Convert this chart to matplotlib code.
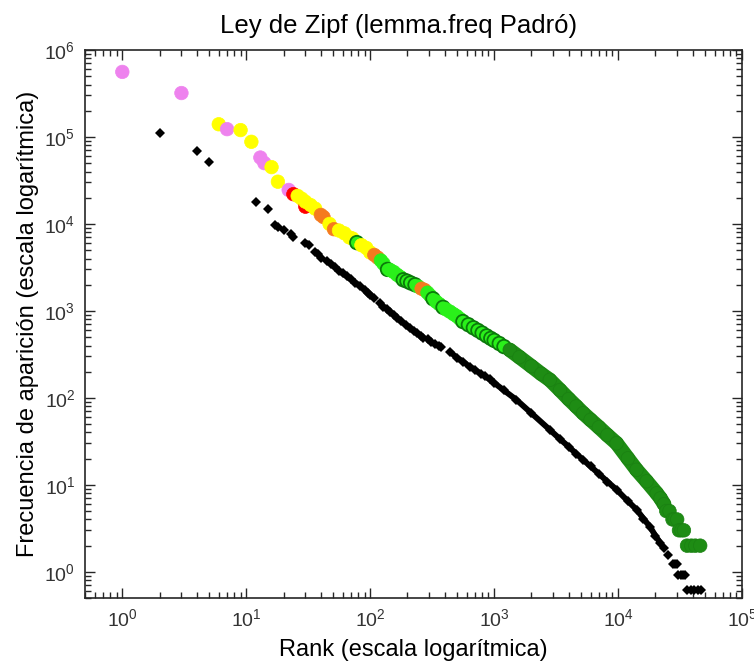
import numpy as np
import matplotlib
matplotlib.use("Agg")
import matplotlib.pyplot as plt

plt.rcParams['font.family'] = ['Liberation Sans', 'DejaVu Sans']
plt.rcParams['mathtext.default'] = 'regular'

#--- black series (rank, frequency)
black_rank = [2, 4, 5, 12, 15, 17, 18, 20, 23, 24,
              30, 32, 36, 38, 40, 45, 48, 52, 56, 60, 65, 70, 76, 82,
              90, 96, 100, 108, 119, 128, 136, 145, 155, 165, 178,
              195, 210, 225, 240, 255, 267,
              291, 310, 335, 360, 375,
              440, 500, 560, 634, 700, 780, 850, 922, 1000, 1200, 1514, 2000,
              2812, 3400, 4000, 4600, 5228, 6000, 7000, 8200, 9727,
              12000, 14100, 16000, 18100, 20000, 21800,
              23500, 25400, 27600, 28800, 29800, 30600, 32000, 33500, 34800,
              36000, 38500, 41000, 44000, 47000]
black_freq = [1.12e5, 6.9e4, 5.1e4, 1.78e4, 1.5e4, 9.8e3, 9.2e3, 8.5e3, 7.6e3, 7.1e3,
              6.1e3, 5.8e3, 4.8e3, 4.5e3, 4.1e3, 3.7e3, 3.5e3, 3.2e3, 2.9e3, 2.7e3, 2.5e3, 2.3e3, 2.1e3, 1.95e3,
              1.75e3, 1.6e3, 1.53e3, 1.4e3, 1.24e3, 1.12e3, 1.05e3, 980, 900, 830, 760,
              690, 630, 590, 550, 515, 490,
              470, 440, 415, 395, 385,
              340, 290, 261, 229, 210, 190, 177, 163, 149, 122, 95, 66.6,
              43, 33.6, 27.4, 22.8, 19.4, 16.3, 13.4, 10.9, 8.8,
              6.5, 5.2, 4.1, 3.3, 2.6, 2.17,
              1.86, 1.55, 1.24, 1.24, 1.24, 0.93, 0.93, 0.93, 0.93,
              0.62, 0.62, 0.62, 0.62, 0.62]

#--- coloured series (rank, frequency, category)
col_rank = [1, 3, 6, 7, 9, 11, 13, 14, 16, 18, 22, 24, 26, 28, 30, 30, 33, 36,
            40, 42, 47, 51, 56, 62, 68, 72, 78, 85, 93, 100, 108, 115,
            122, 128, 138, 145, 155, 165, 175, 185, 198, 212, 230, 245, 260, 275,
            290, 305, 321, 340, 360, 387, 410, 440, 470, 500, 530,
            560, 620, 680, 740, 800, 870, 940, 1000, 1100, 1200,
            1336, 1600, 2000, 2400, 2812, 3400, 4000, 4600, 5228, 6000, 7000, 8200, 9727,
            12000, 14100, 17000, 20500, 22000, 23500,
            24500, 26000, 27500, 28500, 30000, 31000, 32500, 34000,
            36000, 39000, 42000, 46000]
col_freq = [5.6e5, 3.2e5, 1.4e5, 1.23e5, 1.2e5, 8.8e4, 5.8e4, 5.0e4, 4.5e4, 3.06e4, 2.46e4, 2.2e4, 2.1e4, 1.95e4, 1.58e4, 1.8e4, 1.65e4, 1.5e4,
            1.27e4, 1.2e4, 1.0e4, 8.7e3, 8.4e3, 7.8e3, 7.0e3, 6.8e3, 6.1e3, 5.7e3, 5.3e3, 4.7e3, 4.4e3, 4.1e3,
            3.8e3, 3.5e3, 3.0e3, 2.95e3, 2.8e3, 2.6e3, 2.45e3, 2.28e3, 2.2e3, 2.1e3, 2.0e3, 1.9e3, 1.8e3, 1.74e3,
            1.62e3, 1.5e3, 1.38e3, 1.28e3, 1.2e3, 1.1e3, 1.04e3, 980, 920, 870, 810,
            754, 694, 640, 597, 557, 516, 483, 458, 422, 389,
            356, 294, 231, 189, 161, 123, 97, 79.9, 66.7, 55.9, 46, 37.3, 30.1,
            20.2, 14.9, 11, 8, 7, 6,
            5, 5, 4, 4, 4, 3, 3, 3,
            2, 2, 2, 2]
col_cat = ['P', 'P', 'Y', 'P', 'Y', 'Y', 'P', 'P', 'Y', 'Y', 'P', 'R', 'Y', 'Y', 'R', 'Y', 'Y', 'Y',
           'O', 'O', 'Y', 'O', 'Y', 'Y', 'Y', 'Y', 'C', 'Y', 'Y', 'Y', 'O', 'O',
           'L', 'L', 'C', 'L', 'L', 'L', 'L', 'C', 'C', 'C', 'C', 'L', 'O', 'O',
           'L', 'L', 'C', 'L', 'L', 'C', 'L', 'L', 'L', 'L', 'L',
           'C', 'C', 'C', 'C', 'C', 'C', 'C', 'C', 'C', 'C',
           'G', 'G', 'G', 'G', 'G', 'G', 'G', 'G', 'G', 'G', 'G', 'G', 'G',
           'G', 'G', 'G', 'G', 'G', 'G',
           'G', 'G', 'G', 'G', 'G', 'G', 'G', 'G',
           'G', 'G', 'G', 'G']

cat_style = {
    'P': ('#ee82ee', '#ee82ee'),
    'Y': ('#ffff00', '#ffff00'),
    'R': ('#ff0000', '#ff0000'),
    'O': ('#f57a1e', '#f57a1e'),
    'L': ('#2af01a', '#2af01a'),
    'C': ('#2af01a', '#0b7a0b'),
    'G': ('#1e8c14', '#1a8012'),
}

black_rank = np.array(black_rank, dtype=float)
black_freq = np.array(black_freq, dtype=float)
col_rank = np.array(col_rank, dtype=float)
col_freq = np.array(col_freq, dtype=float)
col_cat = np.array(col_cat)


def broken(r, f, gap=0.035, upto=420):
    """Insert NaNs where consecutive low-rank points are far apart, so the band shows gaps"""
    xs, ys = [r[0]], [f[0]]
    for i in range(1, len(r)):
        if r[i - 1] < upto and np.log10(r[i] / r[i - 1]) > gap:
            xs.append(np.nan)
            ys.append(np.nan)
        xs.append(r[i])
        ys.append(f[i])
    return np.array(xs), np.array(ys)


fig = plt.figure(figsize=(7.54, 6.61), dpi=100)
ax = fig.add_axes([85 / 754, 63 / 661, 657 / 754, 548 / 661])

# black series: continuous band, diamonds everywhere
band = (black_rank >= 28) & (black_rank <= 21800)
bx, by = broken(black_rank[band], black_freq[band])
ax.plot(bx, by, color='black', linewidth=4.2, solid_capstyle='round', zorder=2)
ax.plot(black_rank, black_freq, linestyle='none', marker='D', markersize=4.8,
        color='black', markeredgewidth=0, zorder=3)

# coloured series
gband = (col_cat == 'G') & (col_rank <= 23500)
ax.plot(col_rank[gband], col_freq[gband], color=cat_style['G'][0], linewidth=10.5,
        solid_capstyle='round', zorder=2)
faces = [cat_style[c][0] for c in col_cat]
edges = [cat_style[c][1] for c in col_cat]
lws = [1.3 if c == 'C' else 0.5 for c in col_cat]
ax.scatter(col_rank, col_freq, s=95, c=faces, edgecolors=edges, linewidths=lws, zorder=4)

ax.set_xscale('log')
ax.set_yscale('log')
ax.set_xlim(0.5, 1e5)
ax.set_ylim(0.5, 1e6)

ax.set_title("Ley de Zipf (lemma.freq Padró)", fontsize=18.5, pad=12, x=0.477)
ax.set_xlabel("Rank (escala logarítmica)", fontsize=17, labelpad=7)
ax.set_ylabel("Frecuencia de aparición (escala logarítmica)", fontsize=17, labelpad=4)

ax.tick_params(which='both', direction='in', top=True, right=True, colors='#262626')
ax.tick_params(which='major', length=7, width=1.0, labelsize=14, pad=7, labelcolor='#333333')
ax.tick_params(which='minor', length=4, width=1.0)
for s in ax.spines.values():
    s.set_linewidth(1.2)
    s.set_color('#262626')

fig.savefig("out.png", dpi=100)
